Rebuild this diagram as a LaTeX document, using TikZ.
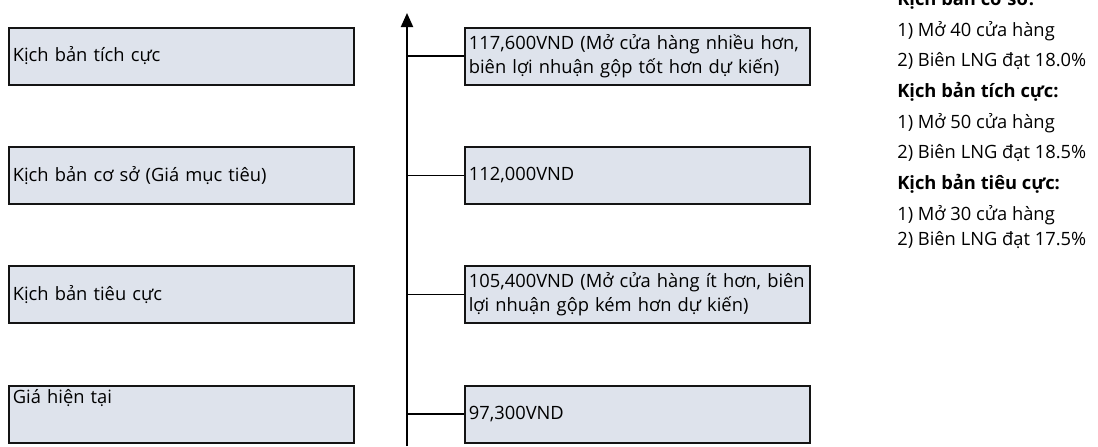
\documentclass[tikz,border=0pt]{standalone}
\usepackage{fontspec}
\setmainfont{Open Sans}
\usepackage{xcolor}
\usepackage{tikz}
\usetikzlibrary{arrows.meta,positioning,calc}

\definecolor{boxfill}{RGB}{222,227,236}
\definecolor{boxline}{RGB}{20,20,20}

\begin{document}
\begin{tikzpicture}[x=0.75pt,y=-0.75pt,
		scen/.style={draw=boxline, line width=1.5pt, fill=boxfill, minimum width=258.75pt, minimum height=42.75pt,
			text width=253pt, inner xsep=2.875pt, align=left, font=\fontsize{13.75}{18}\selectfont},
		val/.style={scen},
		link/.style={line width=1.1pt, black}]
		\clip (0,0) rectangle (1098,446);

		% axis
		\coordinate (axb) at (407,446);
		\coordinate (axt) at (407,13);
		\draw[line width=1.5pt, -{Triangle[width=9pt,length=10.5pt]}] (axb) -- (axt);

		% scenarios
		\node[scen] (s1) at (181.5,56) {Kịch bản tích cực};
		\node[scen] (s2) at (181.5,175.5) {Kịch bản cơ sở (Giá mục tiêu)};
		\node[scen] (s3) at (181.5,294.5) {Kịch bản tiêu cực};
		\node[scen, inner ysep=0pt, text depth=27pt] (s4) at (181.5,414) {Giá hiện tại};

		% values
		\node[val] (v1) at (637.5,56) {\mbox{117,600VND (Mở cửa hàng nhiều hơn,}\\\mbox{biên lợi nhuận gộp tốt hơn dự kiến)}};
		\node[val] (v2) at (637.5,175.5) {112,000VND};
		\node[val] (v3) at (637.5,294.5) {\mbox{105,400VND (Mở cửa hàng ít hơn, biên}\\\mbox{lợi nhuận gộp kém hơn dự kiến)}};
		\node[val] (v4) at (637.5,414) {97,300VND};

		\foreach \v in {v1,v2,v3,v4}
			\draw[link] (\v.west) -- (\v.west -| axb);

		% assumptions
		\node[anchor=north west, inner sep=0pt, align=left, font=\fontsize{13.75}{23}\selectfont] (notes) at (897,-10) {%
			\textbf{Kịch bản cơ sở:}\\
			1) Mở 40 cửa hàng\\
			2) Biên LNG đạt 18.0\%\\
			\textbf{Kịch bản tích cực:}\\
			1) Mở 50 cửa hàng\\
			2) Biên LNG đạt 18.5\%\\
			\textbf{Kịch bản tiêu cực:}\\
			1) Mở 30 cửa hàng\\[-3.75pt]
			2) Biên LNG đạt 17.5\%};
	\end{tikzpicture}
\end{document}
